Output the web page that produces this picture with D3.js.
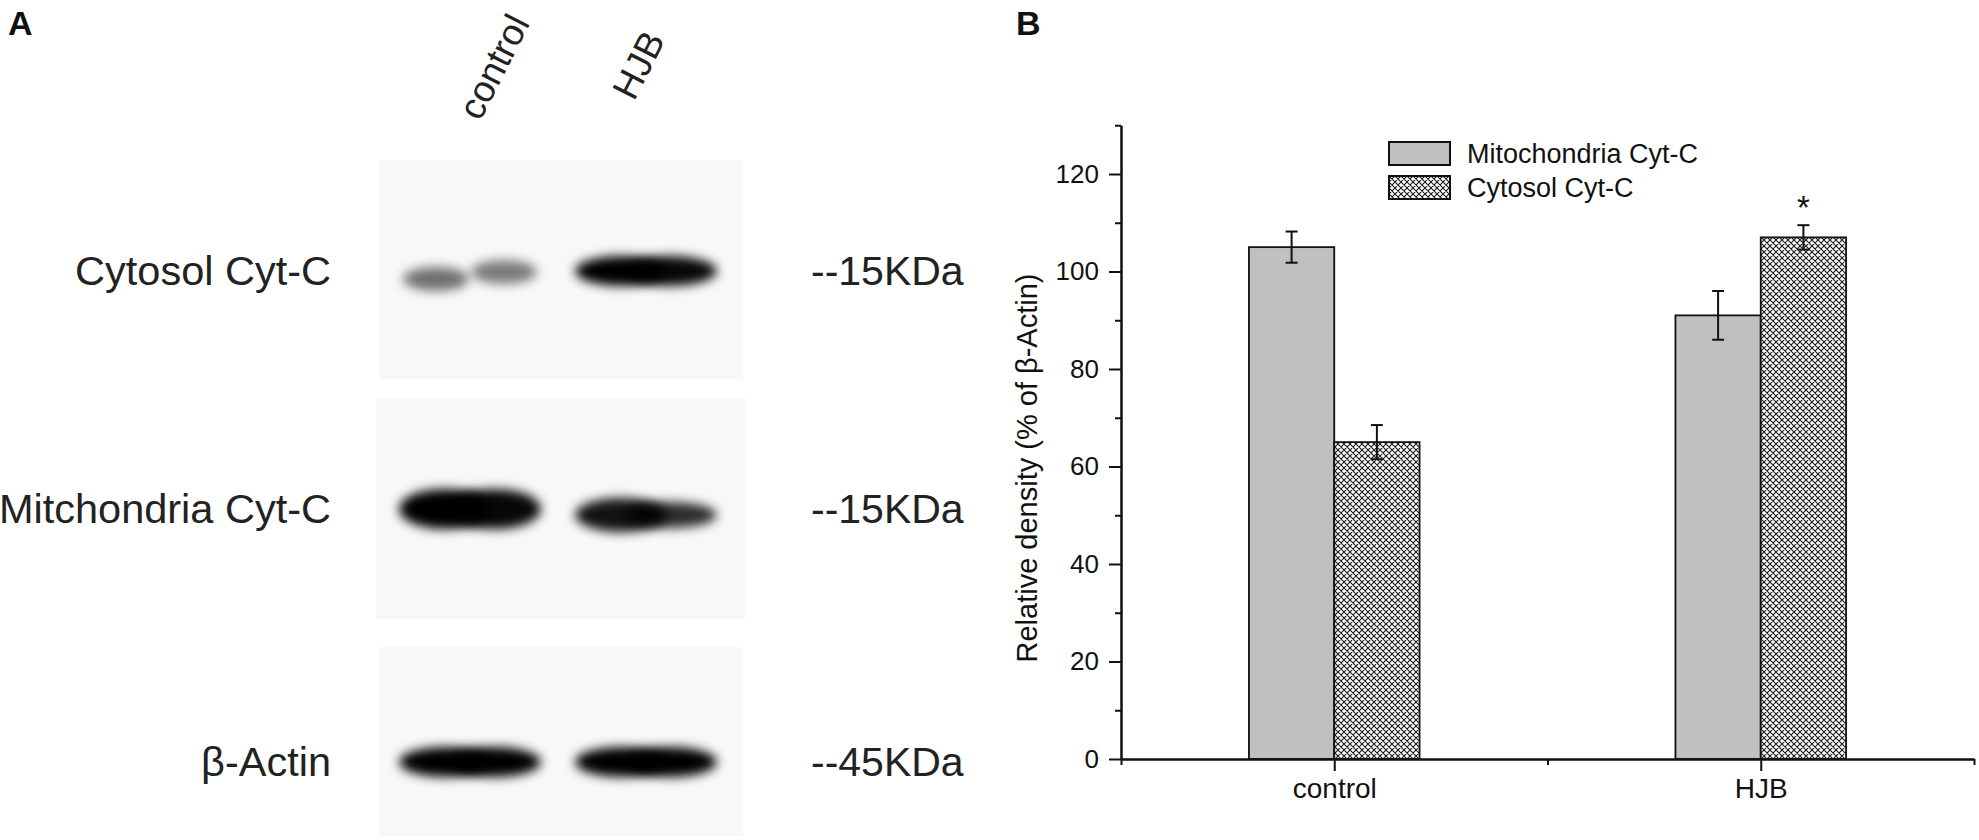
<!DOCTYPE html>
<html>
<head>
<meta charset="utf-8">
<script src="https://cdn.jsdelivr.net/npm/d3@7"></script>
<style>
  body { margin: 0; background: #fff; }
  svg { display: block; font-family: "Liberation Sans", Arial, sans-serif; }
</style>
</head>
<body>
<svg id="fig" width="1979" height="840"></svg>
<script>
//western blot lanes and rows (panel A)
var lanes = ['control', 'HJB'];
var blotRows = ['Cytosol Cyt-C', 'Mitchondria Cyt-C', 'β-Actin'];
var blotMarkers = ['--15KDa', '--15KDa', '--45KDa'];
//relative band darkness per row, per lane, as [left half, right half]
var bandCytosol = [[0.55, 0.5], [1.0, 0.97]];
var bandMito = [[1.0, 0.97], [0.92, 0.82]];
var bandActin = [[1.0, 1.0], [1.0, 1.0]];

//density chart (panel B)
var groups = ['control', 'HJB'];
var seriesNames = ['Mitochondria Cyt-C', 'Cytosol Cyt-C'];
var mitoMean = [105, 91];
var mitoErr = [3.2, 5];
var cytoMean = [65, 107];
var cytoErr = [3.5, 2.5];
var cytoSig = ['', '*'];
var yMajorTicks = [0, 20, 40, 60, 80, 100, 120];
var yMinorTicks = [10, 30, 50, 70, 90, 110, 130];

var svg = d3.select('#fig');
var ink = '#111';

//panel letters
svg.append('text').attr('x', 8).attr('y', 35).attr('font-size', 34).attr('font-weight', 'bold').attr('fill', ink).text('A');
svg.append('text').attr('x', 1016).attr('y', 35).attr('font-size', 34).attr('font-weight', 'bold').attr('fill', ink).text('B');

// ---------------- panel A ----------------
var defs = svg.append('defs');
defs.append('filter').attr('id', 'blur').attr('x', '-40%').attr('y', '-100%').attr('width', '180%').attr('height', '300%')
    .append('feGaussianBlur').attr('stdDeviation', 5.5);

var laneX = d3.scalePoint().domain(lanes).range([470, 646]);
var rowY = d3.scaleOrdinal().domain(blotRows).range([271, 509, 762]);

var blotG = svg.append('g');

//blot membranes
blotG.selectAll('.membrane')
    .data(blotRows)
    .enter().append('rect')
    .attr('class', 'membrane')
    .attr('x', function (d, i) { return i === 1 ? 376 : 379; })
    .attr('y', function (d, i) { return [160, 398, 647][i]; })
    .attr('width', function (d, i) { return i === 1 ? 370 : 364; })
    .attr('height', function (d, i) { return [219, 221, 189][i]; })
    .attr('fill', '#f8f8f8');

//bands, each drawn as two overlapping blurred halves
var bandRows = [bandCytosol, bandMito, bandActin];
var bands = [];
bandRows.forEach(function (row, r) {
    row.forEach(function (halves, l) {
        halves.forEach(function (v, h) {
            bands.push({ row: blotRows[r], lane: lanes[l], v: v, r: r, h: h, weak: r === 0 && l === 0 });
        });
    });
});

var bandH = function (d) {
    if (d.r === 1 && d.lane === 'control') return 40;
    if (d.r === 1) return d.h === 0 ? 34 : 26;
    if (d.weak) return 24;
    return 30;
};
var bandDy = function (d) {
    if (d.weak) return d.h === 0 ? 8 : 1;
    if (d.r === 1 && d.lane === 'HJB') return 6;
    return 0;
};

blotG.selectAll('.band')
    .data(bands)
    .enter().append('ellipse')
    .attr('class', 'band')
    .attr('cx', function (d) { return laneX(d.lane) + (d.h === 0 ? -1 : 1) * (d.weak ? 34 : 25); })
    .attr('cy', function (d) { return rowY(d.row) + bandDy(d); })
    .attr('rx', function (d) { return d.weak ? 33 : 46; })
    .attr('ry', function (d) { return bandH(d) / 2; })
    .attr('fill', '#050505')
    .attr('fill-opacity', function (d) { return d.v; })
    .attr('filter', 'url(#blur)');

//row names
blotG.selectAll('.rowname')
    .data(blotRows)
    .enter().append('text')
    .attr('x', 331)
    .attr('y', function (d) { return rowY(d) + 14; })
    .attr('text-anchor', 'end')
    .attr('font-size', 41.5)
    .attr('fill', '#222')
    .text(function (d) { return d; });

//molecular weight markers
blotG.selectAll('.marker')
    .data(blotMarkers)
    .enter().append('text')
    .attr('x', 811)
    .attr('y', function (d, i) { return rowY(blotRows[i]) + 14; })
    .attr('font-size', 41)
    .attr('fill', '#222')
    .text(function (d) { return d; });

//lane names
blotG.selectAll('.lane')
    .data(lanes)
    .enter().append('text')
    .attr('transform', function (d, i) { return 'translate(' + (laneX(d) + (i === 0 ? 10 : -12)) + ',' + (i === 0 ? 122 : 102) + ') rotate(-63)'; })
    .attr('font-size', 37)
    .attr('fill', '#222')
    .text(function (d) { return d; });

// ---------------- panel B ----------------
var x = d3.scaleLinear().domain([0.5, 2.5]).range([1121, 1974]);
var y = d3.scaleLinear().domain([0, 130]).range([759, 125.25]);
var barW = 0.2;

//hatch pattern
var pat = defs.append('pattern').attr('id', 'hatch').attr('patternUnits', 'userSpaceOnUse')
    .attr('width', 6).attr('height', 6);
pat.append('rect').attr('width', 6).attr('height', 6).attr('fill', '#fff');
pat.append('path').attr('d', 'M0,0L6,6M6,0L0,6M-1,5L1,7M5,-1L7,1M-1,1L1,-1M5,7L7,5')
    .attr('stroke', '#1a1a1a').attr('stroke-width', 1.1);

var chartG = svg.append('g');

var barData = [];
groups.forEach(function (g, i) {
    barData.push({ pos: i + 1 - barW, v: mitoMean[i], e: mitoErr[i], fill: '#c0c0c0', sig: '' });
    barData.push({ pos: i + 1, v: cytoMean[i], e: cytoErr[i], fill: 'url(#hatch)', sig: cytoSig[i] });
});

chartG.selectAll('.bar')
    .data(barData)
    .enter().append('rect')
    .attr('class', 'bar')
    .attr('x', function (d) { return x(d.pos); })
    .attr('y', function (d) { return y(d.v); })
    .attr('width', function (d) { return x(d.pos + barW) - x(d.pos); })
    .attr('height', function (d) { return y(0) - y(d.v); })
    .attr('fill', function (d) { return d.fill; })
    .attr('stroke', ink)
    .attr('stroke-width', 1.8);

//error bars
var errG = chartG.selectAll('.err')
    .data(barData)
    .enter().append('g')
    .attr('class', 'err')
    .attr('stroke', ink)
    .attr('stroke-width', 2);
errG.append('line')
    .attr('x1', function (d) { return x(d.pos + barW / 2); })
    .attr('x2', function (d) { return x(d.pos + barW / 2); })
    .attr('y1', function (d) { return y(d.v + d.e); })
    .attr('y2', function (d) { return y(d.v - d.e); });
[1, -1].forEach(function (s) {
    errG.append('line')
        .attr('x1', function (d) { return x(d.pos + barW / 2) - 6; })
        .attr('x2', function (d) { return x(d.pos + barW / 2) + 6; })
        .attr('y1', function (d) { return y(d.v + s * d.e); })
        .attr('y2', function (d) { return y(d.v + s * d.e); });
});

//significance marks
chartG.selectAll('.sig')
    .data(barData.filter(function (d) { return d.sig; }))
    .enter().append('text')
    .attr('x', function (d) { return x(d.pos + barW / 2); })
    .attr('y', function (d) { return y(d.v + d.e) - 6; })
    .attr('text-anchor', 'middle')
    .attr('font-size', 33)
    .attr('fill', ink)
    .text(function (d) { return d.sig; });

//axes
var yAxis = chartG.append('g').attr('transform', 'translate(' + x(0.5) + ',0)')
    .call(d3.axisLeft(y).tickValues(yMajorTicks).tickSize(12).tickSizeOuter(0).tickPadding(10));
chartG.append('g').attr('transform', 'translate(' + x(0.5) + ',0)')
    .call(d3.axisLeft(y).tickValues(yMinorTicks).tickSize(6).tickSizeOuter(0).tickFormat(''));
var xAxis = chartG.append('g').attr('transform', 'translate(0,' + y(0) + ')')
    .call(d3.axisBottom(x).tickValues([1, 2]).tickFormat(function (d) { return groups[d - 1]; })
        .tickSize(12).tickSizeOuter(0).tickPadding(7));
chartG.append('g').attr('transform', 'translate(0,' + y(0) + ')')
    .call(d3.axisBottom(x).tickValues([0.5, 1.5, 2.5]).tickSize(6).tickSizeOuter(0).tickFormat(''));

chartG.selectAll('.domain, .tick line').attr('stroke', ink).attr('stroke-width', 2);
yAxis.selectAll('text').attr('font-size', 26).attr('fill', ink).attr('font-family', null);
xAxis.selectAll('text').attr('font-size', 28).attr('fill', ink).attr('font-family', null);

//y title
chartG.append('text')
    .attr('transform', 'translate(1037,468) rotate(-90)')
    .attr('text-anchor', 'middle')
    .attr('font-size', 29)
    .attr('fill', ink)
    .text('Relative density (% of β-Actin)');

//legend
var legend = chartG.selectAll('.leg')
    .data(seriesNames)
    .enter().append('g')
    .attr('class', 'leg')
    .attr('transform', function (d, i) { return 'translate(1389,' + (142 + i * 34) + ')'; });
legend.append('rect')
    .attr('width', 61).attr('height', 23)
    .attr('fill', function (d, i) { return i === 0 ? '#c0c0c0' : 'url(#hatch)'; })
    .attr('stroke', ink).attr('stroke-width', 2);
legend.append('text')
    .attr('x', 78).attr('y', 21)
    .attr('font-size', 27).attr('fill', ink)
    .text(function (d) { return d; });
</script>
</body>
</html>
